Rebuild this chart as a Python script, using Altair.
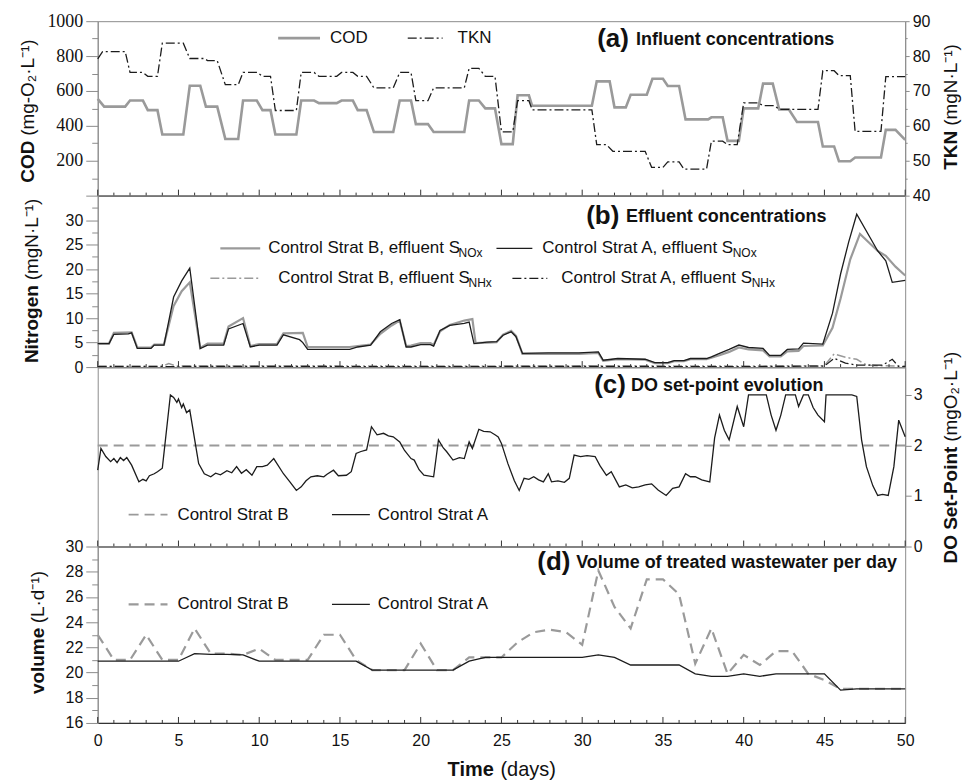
import altair as alt
import pandas as pd

# ---------------- data ----------------
# (a) influent concentrations
cod_day = [0, 0.4, 1.7, 2.0, 2.8, 3.1, 3.7, 4.0, 5.3, 5.7,
           6.35, 6.7, 7.4, 7.9, 8.7, 9.0, 9.85, 10.2, 10.7, 11.0,
           12.3, 12.6, 13.4, 13.7, 14.8, 15.1, 15.8, 16.1, 16.65, 17.1,
           18.3, 18.7, 19.4, 19.7, 20.45, 20.8, 22.7, 23.0, 23.6, 24.0,
           24.6, 25.0, 25.7, 26.0, 26.7, 26.9, 30.6, 30.9, 31.7, 32.0,
           32.7, 33.0, 34.0, 34.35, 35.0, 35.3, 36.0, 36.4, 37.8, 38.0,
           38.7, 39.0, 39.7, 40.0, 40.9, 41.2, 41.8, 42.2, 42.8, 43.3,
           44.6, 44.9, 45.6, 45.9, 46.6, 46.9, 48.5, 48.8, 49.4, 50.0]
cod_val = [555, 510, 510, 545, 545, 490, 490, 350, 350, 630,
           630, 510, 510, 325, 325, 545, 545, 490, 490, 350,
           350, 545, 545, 530, 530, 545, 545, 490, 490, 365,
           365, 545, 545, 410, 410, 365, 365, 545, 545, 500,
           500, 295, 295, 575, 575, 515, 515, 655, 655, 506,
           506, 578, 578, 670, 670, 628, 628, 437, 437, 449,
           449, 314, 314, 500, 500, 642, 642, 494, 494, 422,
           422, 282, 282, 197, 197, 219, 219, 377, 377, 320]
tkn_day = [0, 0.3, 1.7, 2.0, 2.8, 3.1, 3.7, 4.0, 5.3, 5.7,
           6.6, 6.8, 7.4, 7.9, 8.7, 9.0, 9.9, 10.2, 10.7, 11.0,
           12.3, 12.6, 13.4, 13.7, 14.8, 15.1, 15.8, 16.1, 16.65, 17.1,
           18.3, 18.7, 19.4, 19.7, 20.45, 20.8, 22.7, 23.0, 23.6, 24.0,
           24.6, 25.0, 25.7, 26.0, 26.7, 26.9, 30.6, 30.9, 31.5, 31.9,
           33.9, 34.3, 35.0, 35.3, 36.0, 36.3, 37.7, 38.0, 38.7, 39.0,
           39.6, 40.0, 40.9, 41.2, 41.9, 42.2, 44.6, 44.9, 45.6, 45.9,
           46.6, 46.9, 48.5, 48.8, 50.0]
tkn_val = [79.2, 81.3, 81.3, 75.3, 75.3, 74.2, 74.2, 83.7, 83.7, 79.3,
           79.3, 78.7, 78.7, 71.8, 71.8, 75.3, 75.3, 74.2, 74.2, 64.4,
           64.4, 75.3, 75.3, 74.2, 74.2, 75.3, 75.3, 74.2, 74.2, 70.9,
           70.9, 75.3, 75.3, 67.2, 67.2, 70.9, 70.9, 76.5, 76.5, 74.2,
           74.2, 58.3, 58.3, 67.2, 67.2, 64.6, 64.6, 54.6, 54.6, 52.7,
           52.7, 48.1, 48.1, 49.7, 49.7, 47.6, 47.6, 55.6, 55.6, 54.6,
           54.6, 66.6, 66.6, 65.8, 65.8, 64.7, 64.7, 75.8, 75.8, 74.4,
           74.4, 58.4, 58.4, 74.1, 74.1]

# (b) effluent nitrogen
noxA_day = [0, 0.7, 1.0, 1.9, 2.1, 2.45, 3.3, 3.5, 4.1, 4.7, 5.2, 5.7, 6.35, 6.8, 7.8,
            8.1, 9.0, 9.45, 10.0, 11.1, 11.5, 12.5, 12.7, 13.0, 15.6, 16.1, 16.9, 17.5,
            18.2, 18.7, 19.1, 19.4, 20.0, 20.6, 20.8, 21.2, 21.8, 22.7, 23.0, 23.3, 24.1,
            24.7, 25.1, 25.6, 25.9, 26.3, 27.9, 29.8, 31.0, 31.3, 32.2, 33.9, 34.5, 35.3,
            35.7, 36.3, 36.7, 37.7, 38.0, 38.5, 39.1, 39.7, 40.3, 41.2, 41.6, 42.3, 42.7,
            43.4, 43.7, 44.9, 45.5, 46.0, 46.5, 47.0, 48.3, 48.8, 49.2, 50.0]
noxA_val = [4.8, 4.8, 6.7, 6.8, 7.0, 3.8, 3.8, 4.5, 4.5, 14.3, 17.6, 20.2, 3.8, 4.5, 4.5,
            7.8, 8.9, 4.1, 4.5, 4.5, 6.6, 5.6, 5.0, 3.6, 3.6, 4.1, 4.5, 7.2,
            8.9, 9.7, 4.1, 4.1, 4.6, 4.6, 4.3, 7.5, 8.5, 8.9, 9.2, 4.8, 5.1,
            5.2, 6.5, 7.2, 6.2, 2.8, 2.9, 2.9, 3.1, 1.4, 1.75, 1.6, 0.9, 0.9,
            1.3, 1.3, 1.75, 1.75, 2.1, 2.8, 3.6, 4.5, 4.0, 3.8, 2.4, 2.4, 3.6,
            3.7, 4.9, 4.7, 11.0, 19.0, 25.5, 31.2, 23.7, 21.7, 17.3, 17.7]
noxB_day = [0, 0.7, 1.0, 2.1, 2.45, 3.3, 3.5, 4.1, 4.7, 5.2, 5.7, 6.35, 6.8, 7.8, 8.1,
            9.0, 9.45, 10.0, 11.1, 11.5, 12.7, 13.0, 15.6, 16.1, 16.9, 17.5, 18.2, 18.7,
            19.1, 19.4, 20.0, 20.6, 20.8, 21.2, 21.8, 22.7, 23.2, 23.4, 24.1, 24.7, 25.1,
            25.6, 25.9, 26.3, 29.8, 31.0, 31.3, 32.2, 33.9, 34.5, 35.3, 35.7, 36.3, 36.7,
            37.7, 38.0, 38.5, 39.1, 39.7, 40.3, 41.2, 41.6, 42.3, 42.7, 43.4, 43.7, 44.9,
            45.5, 46.0, 46.6, 47.2, 48.3, 48.8, 49.4, 50.0]
noxB_val = [4.8, 4.8, 7.0, 7.1, 4.0, 4.0, 4.6, 4.6, 12.5, 15.5, 17.3, 3.9, 4.8, 4.8, 8.3,
            10.0, 4.3, 4.7, 4.7, 6.9, 7.0, 4.1, 4.1, 4.3, 4.6, 6.8, 8.5, 9.5,
            4.3, 4.4, 4.9, 4.9, 4.5, 7.3, 8.6, 9.5, 9.8, 4.9, 5.0, 5.1, 6.6,
            7.4, 6.4, 2.7, 2.7, 2.9, 1.3, 1.6, 1.5, 0.8, 0.8, 1.2, 1.2, 1.6,
            1.6, 1.9, 2.4, 3.1, 4.0, 3.6, 3.4, 2.2, 2.2, 3.2, 3.3, 4.3, 4.4,
            8.0, 14.0, 22.0, 27.2, 23.7, 22.7, 20.5, 18.7]
nhxB_day = [0, 4.0, 4.4, 4.9, 10.0, 20.0, 30.0, 40.0, 45.0, 45.6, 46.3, 47.0, 47.5, 48.0, 50.0]
nhxB_val = [0.2, 0.2, 0.7, 0.2, 0.25, 0.2, 0.25, 0.2, 0.3, 2.7, 2.0, 1.6, 0.6, 0.3, 0.2]
nhxA_day = [0, 10.0, 20.0, 30.0, 40.0, 45.0, 45.6, 46.3, 47.0, 48.6, 49.2, 49.6, 50.0]
nhxA_val = [0.1, 0.15, 0.1, 0.15, 0.1, 0.2, 1.8, 0.8, 0.4, 0.4, 1.6, 0.1, 0.1]

# (c) DO set-point
doA_day = [0, 0.2, 0.5, 0.8, 1.0, 1.2, 1.4, 1.6, 1.8, 2.1,
           2.55, 2.8, 3.0, 3.2, 3.5, 3.7, 4.0, 4.5, 4.7, 4.9,
           5.0, 5.2, 5.3, 5.5, 5.7, 6.25, 6.6, 7.0, 7.3, 7.6,
           8.0, 8.3, 8.6, 8.9, 9.2, 9.55, 9.85, 10.2, 10.5, 10.9,
           11.5, 11.9, 12.3, 12.6, 12.9, 13.2, 13.6, 14.0, 14.2, 14.6,
           14.9, 15.4, 15.7, 16.0, 16.3, 16.65, 16.95, 17.3, 17.7, 18.0,
           18.3, 18.7, 19.0, 19.4, 19.6, 19.9, 20.2, 20.8, 21.1, 21.4,
           21.6, 22.0, 22.4, 22.7, 23.0, 23.2, 23.6, 23.9, 24.3, 24.6,
           24.8, 25.0, 25.4, 25.8, 26.1, 26.4, 26.7, 27.0, 27.3, 27.6,
           27.9, 28.1, 28.5, 28.9, 29.2, 29.5, 29.9, 30.3, 30.8, 31.1,
           31.5, 31.8, 32.3, 32.7, 33.1, 33.5, 33.9, 34.3, 34.7, 35.2,
           35.6, 36.0, 36.4, 36.7, 37.0, 37.4, 37.9, 38.2, 38.5, 38.8,
           39.1, 39.6, 40.0, 40.3, 41.4, 41.7, 42.0, 42.3, 42.6, 43.2,
           43.4, 43.7, 44.0, 44.3, 44.6, 45.0, 45.1, 46.7, 47.0, 47.3,
           47.6, 48.0, 48.3, 48.6, 48.95, 49.3, 49.6, 50.0]
doA_val = [1.51, 1.94, 1.78, 1.68, 1.74, 1.66, 1.76, 1.70, 1.76, 1.61,
           1.28, 1.33, 1.30, 1.40, 1.44, 1.48, 1.55, 3.0, 2.95, 2.85,
           2.92, 2.75, 2.82, 2.65, 2.70, 1.64, 1.44, 1.38, 1.45, 1.42,
           1.50, 1.46, 1.58, 1.45, 1.52, 1.41, 1.58, 1.58, 1.61, 1.74,
           1.44, 1.28, 1.11, 1.18, 1.30, 1.38, 1.40, 1.38, 1.43, 1.51,
           1.40, 1.41, 1.48, 1.84, 1.88, 1.91, 2.37, 2.21, 2.24, 2.19,
           2.17, 2.07, 1.90, 1.74, 1.71, 1.52, 1.41, 1.38, 2.11, 1.95,
           1.88, 1.71, 1.76, 1.74, 2.07, 1.94, 2.32, 2.28, 2.27, 2.21,
           2.17, 2.04, 1.64, 1.30, 1.11, 1.35, 1.33, 1.38, 1.32, 1.28,
           1.44, 1.28, 1.30, 1.27, 1.35, 1.81, 1.78, 1.80, 1.78, 1.60,
           1.41, 1.48, 1.18, 1.22, 1.16, 1.18, 1.22, 1.24, 1.12, 1.01,
           1.15, 1.18, 1.44, 1.38, 1.38, 1.32, 1.28, 2.15, 2.60, 2.30,
           2.11, 2.77, 2.37, 3.0, 3.0, 2.6, 2.3, 2.6, 3.0, 3.0,
           2.77, 3.0, 3.0, 2.75, 2.6, 2.47, 3.0, 3.0, 2.97, 2.11,
           1.58, 1.20, 1.01, 1.03, 1.01, 1.58, 2.5, 2.17]
doB_day = [0, 50]
doB_val = [2.0, 2.0]

# (d) treated volume per day
vol_day = list(range(51))
volB = [23.0, 21.0, 21.0, 23.0, 21.0, 21.0, 23.5, 21.5, 21.5, 21.4,
        21.9, 21.0, 21.0, 21.0, 23.0, 23.0, 21.0, 20.2, 20.2, 20.2,
        22.3, 20.2, 20.2, 21.2, 21.2, 21.2, 22.4, 23.2, 23.4, 23.2,
        22.2, 28.1, 25.2, 23.5, 27.4, 27.4, 26.2, 20.7, 23.5, 19.9,
        21.4, 20.6, 21.7, 21.7, 19.9, 19.4, 18.7, 18.7, 18.7, 18.7, 18.7]
volA = [20.9, 20.9, 20.9, 20.9, 20.9, 20.9, 21.5, 21.45, 21.45, 21.4,
        20.9, 20.9, 20.9, 20.9, 20.9, 20.9, 20.9, 20.2, 20.2, 20.2,
        20.2, 20.2, 20.2, 20.9, 21.2, 21.2, 21.2, 21.2, 21.2, 21.2,
        21.2, 21.4, 21.2, 20.6, 20.6, 20.6, 20.6, 19.9, 19.7, 19.7,
        19.9, 19.7, 19.9, 19.9, 19.9, 19.9, 18.6, 18.7, 18.7, 18.7, 18.7]

XT_MAJOR = list(range(0, 51, 5))
XT_MINOR = [d for d in range(51) if d % 5]

# ---------------- styling ----------------
SANS = "Liberation Sans"
SERIF = "Liberation Serif"
W = 810
HA, HB, HC, HD = 175, 172, 180, 177
GREY = "#9a9a9a"
DARK = "#1c1c1c"
FRAME = "#8c8c8c"
TXT = "#111111"
TS = 19   # axis title size
LS = 17   # legend text size
RX = 862  # baseline of the right-hand rotated titles

XS = alt.Scale(domain=[0, 50], nice=False, zero=False)
ONE = pd.DataFrame({"k": [0]})


def frame(days, vals):
    n = min(len(days), len(vals))
    return pd.DataFrame({"day": days[:n], "v": vals[:n]})


def xaxis(bottom=False):
    if bottom:
        return alt.Axis(values=XT_MAJOR, labels=True, ticks=False, tickSize=0, labelPadding=10,
                        labelFont=SANS, labelFontSize=16, labelColor=TXT, labelFlush=False,
                        domainColor="#333333", domainWidth=1.2, grid=False, title=None)
    return alt.Axis(values=XT_MAJOR, labels=False, ticks=False, tickSize=0, domain=True,
                    domainColor="#333333", domainWidth=1.2, grid=False, title=None)


def yaxis(orient, values, label_test, major_test, major, minor, font=SANS, size=16, pad=3):
    return alt.Axis(orient=orient, values=values, format="d",
                    labelExpr=f"({label_test}) ? datum.label : ''",
                    tickSize={"condition": {"test": major_test, "value": major}, "value": minor},
                    tickColor=FRAME, domainColor=FRAME, labelFont=font, labelFontSize=size,
                    labelColor=TXT, labelPadding=pad, grid=False, title=None)


def line(days, vals, color, width, yscale, yax, xax, dash=None):
    kw = dict(color=color, strokeWidth=width)
    if dash:
        kw["strokeDash"] = dash
    return alt.Chart(frame(days, vals)).mark_line(**kw).encode(
        x=alt.X("day:Q", scale=XS, axis=xax),
        y=alt.Y("v:Q", scale=yscale, axis=yax),
    )


def T(x, y, s, size=LS, weight="normal", angle=0, align="left", baseline="middle", font=SANS):
    kw = dict(text=s, fontSize=size, fontWeight=weight, align=align, baseline=baseline,
              font=font, color=TXT)
    if angle:
        kw["angle"] = angle
    return alt.Chart(ONE).mark_text(**kw).encode(x=alt.value(x), y=alt.value(y))


def R(x1, x2, y, color, width, dash=None):
    kw = dict(color=color, strokeWidth=width)
    if dash:
        kw["strokeDash"] = dash
    return alt.Chart(ONE).mark_rule(**kw).encode(x=alt.value(x1), x2=alt.value(x2), y=alt.value(y))


def xticks(h, xax):
    maj = alt.Chart(pd.DataFrame({"day": XT_MAJOR})).mark_rule(color="#333333", strokeWidth=1).encode(
        x=alt.X("day:Q", scale=XS, axis=xax), y=alt.value(h), y2=alt.value(h - 6))
    mnr = alt.Chart(pd.DataFrame({"day": XT_MINOR})).mark_rule(color="#333333", strokeWidth=1).encode(
        x=alt.X("day:Q", scale=XS, axis=xax), y=alt.value(h), y2=alt.value(h - 3))
    return [maj, mnr]


DASHDOT = [9, 3, 2, 3]
DASHED = [10, 6]

# ---------------- panel (a) ----------------
XA = xaxis()
s_cod = alt.Scale(domain=[0, 1000], nice=False, zero=False)
s_tkn = alt.Scale(domain=[40, 90], nice=False, zero=False)
pa = alt.layer(
    line(cod_day, cod_val, GREY, 2.6, s_cod,
         yaxis("left", list(range(0, 1001, 100)), "datum.value % 200 == 0 && datum.value > 0",
               "datum.value % 200 == 0", 12, 6, font=SERIF, size=18), XA),
    line(tkn_day, tkn_val, DARK, 1.3, s_tkn,
         yaxis("right", list(range(40, 91, 5)), "datum.value % 10 == 0",
               "datum.value % 10 == 0", 4, 2, pad=3), XA, dash=DASHDOT),
    *xticks(HA, XA),
    R(181, 223, 17, GREY, 2.6), T(233, 17, "COD"),
    R(311, 346, 17, DARK, 1.3, DASHDOT), T(361, 17, "TKN"),
    T(501, 18, "(a)", size=26, weight="bold"),
    T(540, 19, "Influent concentrations", size=18, weight="bold"),
    T(-64, 162, "COD", size=TS, weight="bold", angle=270, baseline="alphabetic"),
    T(-64, 115, "(mg-O₂·L⁻¹)", size=TS, angle=270, baseline="alphabetic"),
    T(RX, 149, "TKN", size=TS, weight="bold", angle=270, baseline="alphabetic"),
    T(RX, 105, "(mgN·L⁻¹)", size=TS, angle=270, baseline="alphabetic"),
).resolve_scale(y="independent").resolve_axis(y="independent").properties(width=W, height=HA)

# ---------------- panel (b) ----------------
XB = xaxis()
s_n = alt.Scale(domain=[0, 35], nice=False, zero=False)
YB = yaxis("left", [i * 2.5 for i in range(14)], "datum.value % 5 == 0", "datum.value % 5 == 0", 12, 6)
pb = alt.layer(
    line(noxB_day, noxB_val, GREY, 2.2, s_n, YB, XB),
    line(nhxB_day, nhxB_val, GREY, 1.5, s_n, YB, XB, dash=DASHDOT),
    line(noxA_day, noxA_val, DARK, 1.3, s_n, YB, XB),
    line(nhxA_day, nhxA_val, DARK, 1.2, s_n, YB, XB, dash=DASHDOT),
    *xticks(HB, XB),
    R(123, 163, 53, GREY, 2.2), T(171, 53, "Control Strat B, effluent S"), T(362, 58, "NOx", size=12),
    R(400, 436, 53, DARK, 1.3), T(446, 53, "Control Strat A, effluent S"), T(637, 58, "NOx", size=12),
    R(113, 161, 83, GREY, 1.5, DASHDOT), T(181, 83, "Control Strat B, effluent S"), T(372, 88, "NHx", size=12),
    R(416, 451, 83, DARK, 1.2, DASHDOT), T(465, 83, "Control Strat A, effluent S"), T(656, 88, "NHx", size=12),
    T(490, 20, "(b)", size=26, weight="bold"),
    T(530, 21, "Effluent concentrations", size=18, weight="bold"),
    T(-60, 168, "Nitrogen", size=TS, weight="bold", angle=270, baseline="alphabetic"),
    T(-60, 85, "(mgN·L⁻¹)", size=TS, angle=270, baseline="alphabetic"),
).properties(width=W, height=HB)

# ---------------- panel (c) ----------------
XC = xaxis()
s_do = alt.Scale(domain=[0, 3.55], nice=False, zero=False)
YC = yaxis("right", [i * 0.5 for i in range(8)], "datum.value % 1 == 0", "datum.value % 1 == 0", 6, 3, pad=2)
pc = alt.layer(
    line(doB_day, doB_val, GREY, 2.0, s_do, YC, XC, dash=DASHED),
    line(doA_day, doA_val, DARK, 1.3, s_do, YC, XC),
    *xticks(HC, XC),
    R(31, 70, 148, GREY, 2.0, DASHED), T(80, 148, "Control Strat B"),
    R(235, 273, 148, DARK, 1.3), T(281, 148, "Control Strat A"),
    T(498, 18, "(c)", size=26, weight="bold"),
    T(535, 19, "DO set-point evolution", size=18, weight="bold"),
    T(RX, 197, "DO Set-Point", size=TS, weight="bold", angle=270, baseline="alphabetic"),
    T(RX, 75, "(mgO₂·L⁻¹)", size=TS, angle=270, baseline="alphabetic"),
).properties(width=W, height=HC)

# ---------------- panel (d) ----------------
XD = xaxis(bottom=True)
s_v = alt.Scale(domain=[16, 30], nice=False, zero=False)
YD = yaxis("left", list(range(16, 31)), "datum.value % 2 == 0", "datum.value % 2 == 0", 12, 6)
pd_ = alt.layer(
    line(vol_day, volB, GREY, 2.2, s_v, YD, XD, dash=DASHED),
    line(vol_day, volA, DARK, 1.3, s_v, YD, XD),
    *xticks(HD, XD),
    R(31, 70, 58, GREY, 2.2, DASHED), T(80, 58, "Control Strat B"),
    R(235, 273, 58, DARK, 1.3), T(281, 58, "Control Strat A"),
    T(441, 16, "(d)", size=26, weight="bold"),
    T(480, 17, "Volume of treated wastewater per day", size=18, weight="bold"),
    T(-54, 148, "volume", size=TS, weight="bold", angle=270, baseline="alphabetic"),
    T(-54, 77, "(L·d⁻¹)", size=TS, angle=270, baseline="alphabetic"),
    T(351, 230, "Time", size=20, weight="bold", baseline="alphabetic"),
    T(404, 230, "(days)", size=20, baseline="alphabetic"),
).properties(width=W, height=HD)

chart = alt.vconcat(pa, pb, pc, pd_, spacing=0, bounds="flush").properties(
    padding={"left": 10, "top": 2, "right": 0, "bottom": 0}
).configure_view(stroke=FRAME, strokeWidth=1).configure_concat(spacing=0)

chart.save("out.html", embed_options={"renderer": "svg", "actions": False})
